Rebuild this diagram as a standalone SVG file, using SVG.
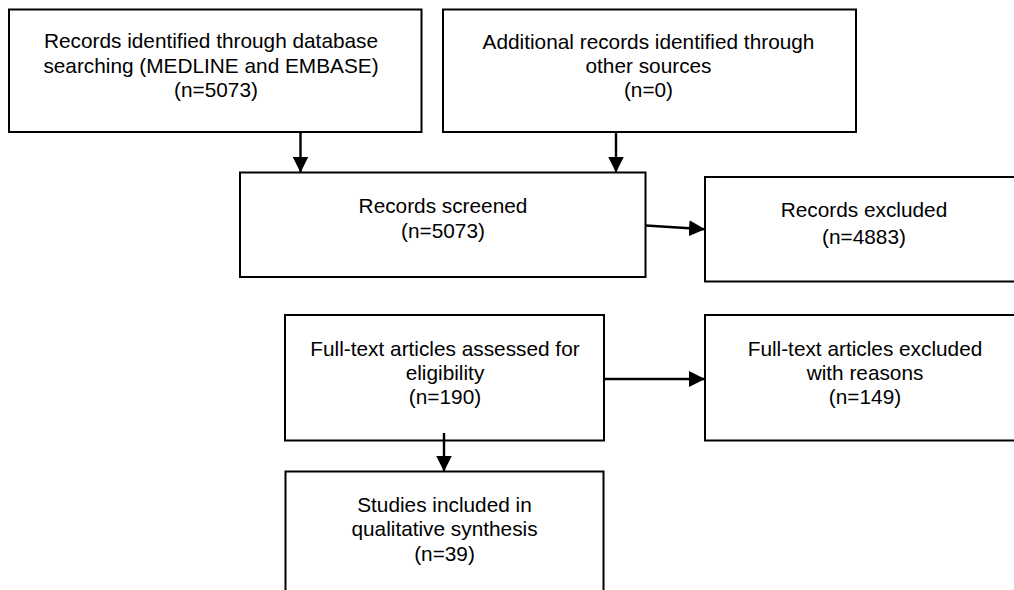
<svg xmlns="http://www.w3.org/2000/svg" width="1014" height="590" viewBox="0 0 1014 590">
<style>
.box{fill:#fff;stroke:#000;stroke-width:2}
.t{font-family:"Liberation Sans",Arial,sans-serif;font-size:20.8px;fill:#000;text-anchor:middle}
.c{stroke:#000;stroke-width:2.4;fill:none;marker-end:url(#ah)}
</style>
<defs>
<marker id="ah" markerUnits="userSpaceOnUse" markerWidth="16" markerHeight="16" refX="16" refY="8" orient="auto">
<path d="M0,0 L16,8 L0,16 z" fill="#000"/>
</marker>
</defs>
<rect width="1014" height="590" fill="#fff"/>
<g id="n1">
<rect class="box" x="9" y="9.5" width="412.5" height="122.5"/>
<text class="t" x="211" y="47.5">Records identified through database</text>
<text class="t" x="211" y="72.5">searching (MEDLINE and EMBASE)</text>
<text class="t" x="216" y="96.5">(n=5073)</text>
</g>
<g id="n2">
<rect class="box" x="443" y="9.5" width="413" height="122.5"/>
<text class="t" x="648.5" y="49">Additional records identified through</text>
<text class="t" x="648.5" y="73">other sources</text>
<text class="t" x="648.5" y="97">(n=0)</text>
</g>
<g id="n3">
<rect class="box" x="240" y="172.5" width="405.5" height="104.5"/>
<text class="t" x="443" y="213">Records screened</text>
<text class="t" x="443" y="238">(n=5073)</text>
</g>
<g id="n4">
<rect class="box" x="705" y="177" width="330" height="104.5"/>
<text class="t" x="864" y="217">Records excluded</text>
<text class="t" x="864" y="244">(n=4883)</text>
</g>
<g id="n5">
<rect class="box" x="285" y="315" width="319" height="125.5"/>
<text class="t" x="445" y="356">Full-text articles assessed for</text>
<text class="t" x="445" y="380">eligibility</text>
<text class="t" x="445" y="403.5">(n=190)</text>
</g>
<g id="n6">
<rect class="box" x="705" y="315" width="330" height="125.5"/>
<text class="t" x="865" y="356">Full-text articles excluded</text>
<text class="t" x="865" y="380">with reasons</text>
<text class="t" x="865" y="403.5">(n=149)</text>
</g>
<g id="n7">
<rect class="box" x="285.5" y="471.5" width="318" height="140"/>
<text class="t" x="444.5" y="512">Studies included in</text>
<text class="t" x="444.5" y="536">qualitative synthesis</text>
<text class="t" x="444.5" y="560.5">(n=39)</text>
</g>
<g id="connectors">
<line class="c" x1="300.5" y1="132" x2="300.5" y2="172.5"/>
<line class="c" x1="616" y1="132" x2="616" y2="172.5"/>
<line class="c" x1="646" y1="225.5" x2="705" y2="229.3"/>
<line class="c" x1="604" y1="379" x2="705" y2="379"/>
<line class="c" x1="444" y1="433" x2="444" y2="471.5"/>
</g>
</svg>
